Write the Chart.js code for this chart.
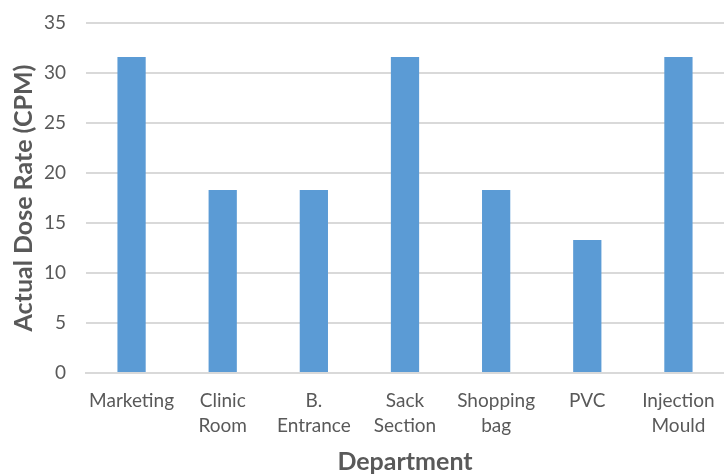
<!DOCTYPE html>
<html>
<head>
<meta charset="utf-8">
<script src="https://cdn.jsdelivr.net/npm/chart.js@4/dist/chart.umd.min.js"></script>
<style>
  html, body { margin: 0; padding: 0; background: #fff; }
  #wrap { width: 724px; height: 474px; }
</style>
</head>
<body>
<div id="wrap"><canvas id="doseChart" width="724" height="474"></canvas></div>
<script>
// Dose rate per department
const departments = [
    'Marketing',
    ['Clinic', 'Room'],
    ['B.', 'Entrance'],
    ['Sack', 'Section'],
    ['Shopping', 'bag'],
    'PVC',
    ['Injection', 'Mould']
];
const doseRates = [31.6, 18.3, 18.3, 31.6, 18.3, 13.3, 31.6];
const yTicks = [0, 5, 10, 15, 20, 25, 30, 35];

const textColor = '#595959';
const gridColor = '#d9d9d9';
const fontFamily = 'Lato, "Open Sans", sans-serif';

new Chart(document.getElementById('doseChart'), {
    type: 'bar',
    data: {
        labels: departments,
        datasets: [{
            label: 'Actual Dose Rate',
            data: doseRates,
            backgroundColor: '#5b9bd5',
            barPercentage: 0.31,
            categoryPercentage: 1
        }]
    },
    options: {
        responsive: false,
        animation: false,
        layout: { padding: { top: 23, right: 0, left: 0, bottom: 0 } },
        plugins: {
            legend: { display: false },
            tooltip: { enabled: false }
        },
        scales: {
            x: {
                grid: { display: false, drawTicks: false },
                border: { color: gridColor, width: 2 },
                ticks: {
                    color: textColor,
                    font: { family: fontFamily, size: 19, lineHeight: 1.3 },
                    padding: 16,
                    maxRotation: 0,
                    autoSkip: false
                },
                title: {
                    display: true,
                    text: 'Department',
                    color: textColor,
                    font: { family: fontFamily, size: 25, weight: 'bold', lineHeight: 1.0 },
                    padding: { top: 2, bottom: 0 }
                },
                afterFit: function(scale) {
                    scale.height = 101;
                    // let the last label overhang instead of shrinking the plot
                    scale.paddingLeft = 0;
                    scale.paddingRight = 0;
                }
            },
            y: {
                min: 0,
                max: 35,
                afterBuildTicks: function(scale) {
                    scale.ticks = yTicks.map(v => ({ value: v }));
                },
                grid: { color: gridColor, lineWidth: 2, drawTicks: false },
                border: { display: false },
                ticks: {
                    color: textColor,
                    font: { family: fontFamily, size: 19 },
                    padding: 20
                },
                title: {
                    display: true,
                    text: 'Actual Dose Rate (CPM)',
                    color: textColor,
                    font: { family: fontFamily, size: 25, weight: 'bold' },
                    padding: { top: 9, bottom: 0 }
                },
                afterFit: function(scale) {
                    scale.width = 86;
                    // top tick label may overhang the plot area
                    scale.paddingTop = 0;
                    scale.paddingBottom = 0;
                }
            }
        }
    }
});
</script>
</body>
</html>
